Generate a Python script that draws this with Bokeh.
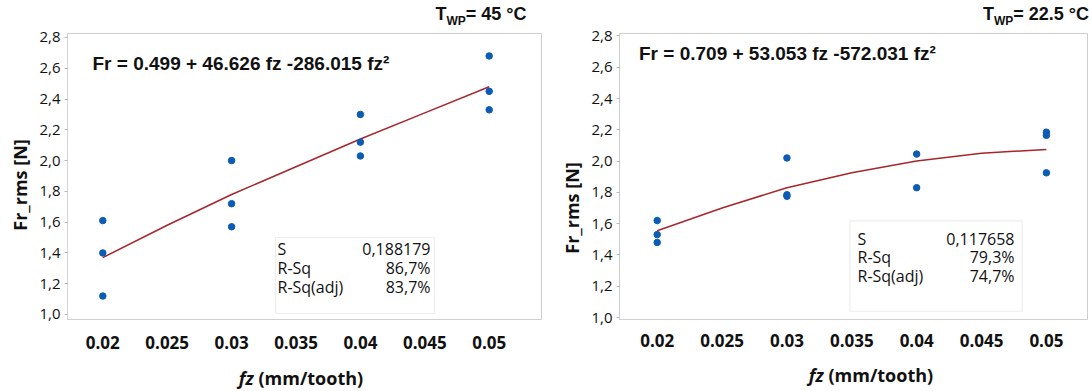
from bokeh.plotting import figure
from bokeh.layouts import row, column
from bokeh.models import (Label, BoxAnnotation, FixedTicker, CustomJSTickFormatter,
                          Range1d, Div)
from bokeh.embed import file_html
from bokeh.resources import INLINE

# ---------------- data ----------------
fz_ticks = [0.02, 0.025, 0.03, 0.035, 0.04, 0.045, 0.05]
fr_ticks = [1.0, 1.2, 1.4, 1.6, 1.8, 2.0, 2.2, 2.4, 2.6, 2.8]

# T_WP = 45 °C
fz_45 = [0.02, 0.02, 0.02, 0.03, 0.03, 0.03, 0.04, 0.04, 0.04, 0.05, 0.05, 0.05]
fr_45 = [1.61, 1.40, 1.12, 2.00, 1.72, 1.57, 2.30, 2.12, 2.03, 2.68, 2.45, 2.33]
fit_fz_45 = [0.02, 0.025, 0.03, 0.035, 0.04, 0.045, 0.05]
fit_fr_45 = [1.37, 1.58, 1.78, 1.96, 2.14, 2.31, 2.48]
eq_45 = "Fr = 0.499 + 46.626 fz -286.015 fz²"
stats_45 = ["0,188179", "86,7%", "83,7%"]
temp_45 = "= 45 °C"

# T_WP = 22.5 °C
fz_22 = [0.02, 0.02, 0.02, 0.03, 0.03, 0.03, 0.04, 0.04, 0.05, 0.05, 0.05]
fr_22 = [1.62, 1.53, 1.48, 2.02, 1.785, 1.775, 2.045, 1.83, 2.185, 2.165, 1.925]
fit_fz_22 = [0.02, 0.025, 0.03, 0.035, 0.04, 0.045, 0.05]
fit_fr_22 = [1.555, 1.70, 1.83, 1.925, 2.00, 2.05, 2.075]
eq_22 = "Fr = 0.709 + 53.053 fz -572.031 fz²"
stats_22 = ["0,117658", "79,3%", "74,7%"]
temp_22 = "= 22.5 °C"

stat_names = ["S", "R-Sq", "R-Sq(adj)"]
y_title = "Fr_rms [N]"
x_title_var = "fz"
x_title_unit = "(mm/tooth)"

SANS = "Open Sans"
ARIAL = "Liberation Sans"
TXT = "#111111"

FIG_TOP = 26
FIG_H = 333


def make_panel(cfg):
    ox = cfg["ox"]
    fl, fr_, ft, fb = cfg["frame"]
    xr, yr = cfg["xr"], cfg["yr"]
    p = figure(width=cfg["w"], height=FIG_H, output_backend="svg", toolbar_location=None,
               x_range=Range1d(*xr), y_range=Range1d(*yr),
               min_border_left=fl - ox, min_border_right=ox + cfg["w"] - fr_,
               min_border_top=ft - FIG_TOP, min_border_bottom=FIG_TOP + FIG_H - fb)
    p.outline_line_color = "#cfcfcf"
    p.grid.visible = False
    p.background_fill_color = "white"
    p.border_fill_color = "white"

    def X(px):
        return xr[0] + (px - fl) / (fr_ - fl) * (xr[1] - xr[0])

    def Y(py):
        return yr[1] - (py - ft) / (fb - ft) * (yr[1] - yr[0])

    # axes
    p.xaxis.ticker = FixedTicker(ticks=fz_ticks)
    p.xaxis.formatter = CustomJSTickFormatter(code="return String(parseFloat(tick.toFixed(3)));")
    p.xaxis.axis_line_color = None
    p.xaxis.major_tick_line_color = None
    p.xaxis.minor_tick_line_color = None
    p.xaxis.major_label_standoff = cfg["xstand"]
    p.xaxis.major_label_text_font = SANS
    p.xaxis.major_label_text_font_size = "17px"
    p.xaxis.major_label_text_font_style = "bold"
    p.xaxis.major_label_text_color = TXT

    p.yaxis.ticker = FixedTicker(ticks=fr_ticks)
    p.yaxis.formatter = CustomJSTickFormatter(code="return tick.toFixed(1).replace('.', ',');")
    p.yaxis.axis_line_color = cfg["yaxis_line"]
    p.yaxis.major_tick_line_color = "#bbbbbb"
    p.yaxis.major_tick_in = 0
    p.yaxis.major_tick_out = 3
    p.yaxis.minor_tick_line_color = None
    p.yaxis.major_label_standoff = 4
    p.yaxis.major_label_text_font = SANS
    p.yaxis.major_label_text_font_size = "15px"
    p.yaxis.major_label_text_color = TXT

    # data
    p.line(cfg["fit_x"], cfg["fit_y"], line_color="#a8262b", line_width=1.5)
    p.scatter(cfg["x"], cfg["y"], size=6.5, color="#0c5cb4")

    # stats box
    bl, br, bt, bb = cfg["box"]
    p.add_layout(BoxAnnotation(left=X(bl), right=X(br), top=Y(bt), bottom=Y(bb),
                               fill_color="white", fill_alpha=1.0,
                               line_color="#c4c4c4", line_width=1.2))
    for i, (nm, val) in enumerate(zip(stat_names, cfg["stats"])):
        yy = Y(cfg["rows"][i])
        p.add_layout(Label(x=X(cfg["stat_lx"]), y=yy, text=nm, text_font=SANS,
                           text_font_size="16px", text_color=TXT,
                           text_baseline="middle", text_align="left"))
        p.add_layout(Label(x=X(cfg["stat_rx"]), y=yy, text=val, text_font=SANS,
                           text_font_size="16px", text_color=TXT,
                           text_baseline="middle", text_align="right"))

    # equation
    ex, ey = cfg["eq_pos"]
    p.add_layout(Label(x=X(ex), y=Y(ey), text=cfg["eq"], text_font=ARIAL,
                       text_font_size="19px", text_font_style="bold", text_color=TXT,
                       text_baseline="middle", text_align="left"))
    return p


left = make_panel(dict(
    ox=32, w=528, frame=(67, 541, 33, 319),
    xr=(0.017259, 0.054061), yr=(0.96751, 2.82586),
    yaxis_line="#d6d6d6", xstand=10,
    x=fz_45, y=fr_45, fit_x=fit_fz_45, fit_y=fit_fr_45,
    box=(275, 434, 237, 313), stats=stats_45, rows=(248.3, 267.3, 286.7),
    stat_lx=277, stat_rx=430,
    eq=eq_45, eq_pos=(92, 63),
))

right = make_panel(dict(
    ox=584, w=504, frame=(619, 1088, 33, 321),
    xr=(0.017094, 0.053246), yr=(0.98730, 2.81587),
    yaxis_line="#cccccc", xstand=8,
    x=fz_22, y=fr_22, fit_x=fit_fz_22, fit_y=fit_fr_22,
    box=(849.4, 1021.7, 221.7, 312.7), stats=stats_22, rows=(239.5, 258.5, 277.5),
    stat_lx=857, stat_rx=1014,
    eq=eq_22, eq_pos=(638.5, 53.3),
))


def box_div(w, h, inner):
    return Div(width=w, height=h, margin=0,
               text=f'<div style="position:relative;width:{w}px;height:{h}px;">{inner}</div>')


def title_span(cx, temp):
    return (f'<span style="position:absolute;left:{cx}px;top:5px;transform:translateX(-50%);'
            f'white-space:nowrap;font-family:\'{ARIAL}\';font-weight:bold;font-size:18px;'
            f'line-height:18px;color:{TXT};">T<sub style="font-size:12px;line-height:0;">WP</sub>'
            f'{temp}</span>')


def ytitle_span(cx, cy):
    return (f'<span style="position:absolute;left:{cx}px;top:{cy}px;'
            f'transform:translate(-50%,-50%) rotate(-90deg);white-space:nowrap;'
            f'font-family:\'{SANS}\';font-weight:bold;font-size:18px;line-height:22px;'
            f'color:{TXT};">{y_title}</span>')


def xtitle_span(cx, top):
    return (f'<span style="position:absolute;left:{cx}px;top:{top}px;transform:translateX(-50%);'
            f'white-space:nowrap;font-family:\'{SANS}\';font-weight:bold;font-size:18px;'
            f'line-height:20px;color:{TXT};"><i>{x_title_var}</i> {x_title_unit}</span>')


top_div = box_div(1088, FIG_TOP, title_span(481, temp_45) + title_span(1036, temp_22))
yl_div = box_div(32, FIG_H, ytitle_span(20, 185 - FIG_TOP))
yr_div = box_div(24, FIG_H, ytitle_span(12, 208 - FIG_TOP))
bottom_div = box_div(1088, 30, xtitle_span(301, 9) + xtitle_span(871, 6))

layout = column(top_div, row(yl_div, left, yr_div, right, spacing=0), bottom_div, spacing=0)
open("out.html", "w").write(file_html(layout, INLINE))
